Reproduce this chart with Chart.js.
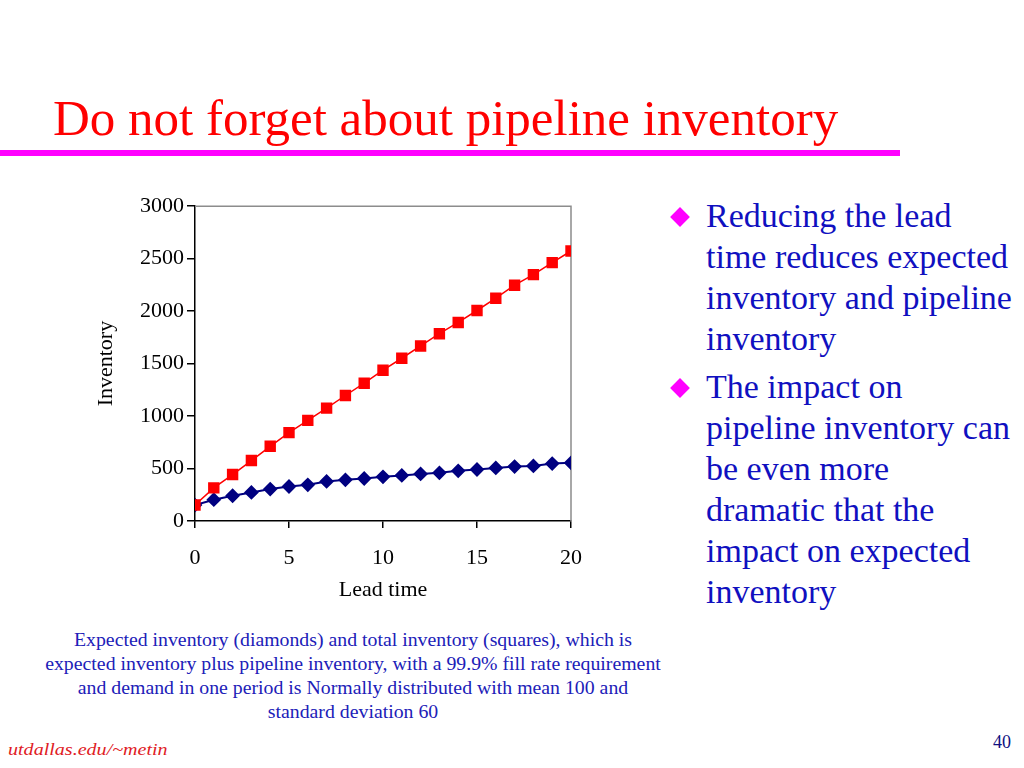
<!DOCTYPE html>
<html>
<head>
<meta charset="utf-8">
<script src="https://cdn.jsdelivr.net/npm/chart.js@4/dist/chart.umd.min.js"></script>
<style>
  html, body { margin: 0; padding: 0; background: #fff; }
  body { width: 1024px; height: 768px; position: relative; overflow: hidden;
         font-family: "Liberation Serif", "Times New Roman", serif; }
  .title { position: absolute; left: 53px; top: 93px; font-size: 51px; line-height: 1;
           color: #ff0000; white-space: nowrap; }
  .rule { position: absolute; left: 0; top: 150px; width: 900px; height: 6px; background: #ff00ff; }
  #wrap { position: absolute; left: 90px; top: 190px; width: 509px; height: 420px; }
  .bullets { position: absolute; left: 706px; top: 195px; font-size: 34px; line-height: 41px;
             color: #1010c0; white-space: nowrap; }
  .bullets p { margin: 0 0 7px 0; position: relative; }
  .bullets p::before { content: ""; position: absolute; left: -33px; top: 15px; width: 14px; height: 14px;
                       background: #ff00ff; transform: rotate(45deg); }
  .caption { position: absolute; left: 0; top: 628px; width: 706px; text-align: center;
             font-size: 18px; line-height: 24px; color: #2020b8; white-space: nowrap;
             transform: scaleX(1.1); transform-origin: 353px 0; }
  .footer { position: absolute; left: 8px; top: 740px; font-size: 17px; font-style: italic; color: #e0201f;
            transform: scaleX(1.18); transform-origin: 0 0; white-space: nowrap; }
  .page { position: absolute; left: 993px; top: 732px; font-size: 18px; color: #101080; }
</style>
</head>
<body>
<div class="title">Do not forget about pipeline inventory</div>
<div class="rule"></div>
<div id="wrap"><canvas id="inv"></canvas></div>
<div class="bullets">
  <p>Reducing the lead<br>time reduces expected<br>inventory and pipeline<br>inventory</p>
  <p>The impact on<br>pipeline inventory can<br>be even more<br>dramatic that the<br>impact on expected<br>inventory</p>
</div>
<div class="caption">Expected inventory (diamonds) and total inventory (squares), which is<br>expected inventory plus pipeline inventory, with a 99.9% fill rate requirement<br>and demand in one period is Normally distributed with mean 100 and<br>standard deviation 60</div>
<div class="footer">utdallas.edu/~metin</div>
<div class="page">40</div>

<script>
// lead time 0..20
const leadTimes = [0, 1, 2, 3, 4, 5, 6, 7, 8, 9, 10, 11, 12, 13, 14, 15, 16, 17, 18, 19, 20];
const expectedInv = [152, 203, 241, 272, 304, 329, 345, 377, 392, 405, 421, 434, 449, 459, 478, 491, 506, 519, 525, 547, 554];
const totalInv = [152, 316, 443, 576, 712, 842, 959, 1076, 1196, 1313, 1437, 1551, 1668, 1785, 1892, 2006, 2123, 2247, 2348, 2462, 2573];

const FONT = "'Liberation Serif', 'Times New Roman', serif";
const toPoints = (ys) => ys.map((y, i) => ({ x: leadTimes[i], y }));
const plain = (v) => String(v); // no thousands separator

/* grey frame on the top and right of the plot area */
const frameTopRight = {
  id: "frameTopRight",
  beforeDatasetsDraw(chart) {
    const { ctx, chartArea: a } = chart;
    ctx.save();
    ctx.strokeStyle = "#8c8c8c";
    ctx.lineWidth = 1.5;
    ctx.beginPath();
    ctx.moveTo(a.left, a.top);
    ctx.lineTo(a.right, a.top);
    ctx.lineTo(a.right, a.bottom);
    ctx.stroke();
    ctx.restore();
  }
};

new Chart(document.getElementById("inv"), {
  type: "line",
  data: {
    datasets: [
      {
        label: "Total inventory",
        data: toPoints(totalInv),
        borderColor: "#ff0000",
        backgroundColor: "#ff0000",
        borderWidth: 1.5,
        pointStyle: "rect",
        pointRadius: 7,
        pointHoverRadius: 7
      },
      {
        label: "Expected inventory",
        data: toPoints(expectedInv),
        borderColor: "#000080",
        backgroundColor: "#000080",
        borderWidth: 2,
        pointStyle: "rectRot",
        pointRadius: 6,
        pointHoverRadius: 6
      }
    ]
  },
  options: {
    responsive: true,
    maintainAspectRatio: false,
    animation: false,
    // right gap comes from the "20" label half-width + tick padding (~28px)
    layout: { padding: { top: 15, right: 0, left: 0, bottom: 0 } },
    plugins: { legend: { display: false }, tooltip: { enabled: false } },
    scales: {
      x: {
        type: "linear",
        position: "bottom",
        min: 0, max: 20,
        ticks: { stepSize: 5, color: "#000", padding: 17, callback: plain, font: { family: FONT, size: 22 } },
        grid: { drawOnChartArea: false, drawTicks: true, tickLength: 7, color: "#000", lineWidth: 1.5 },
        border: { color: "#000", width: 1.5 },
        title: { display: true, text: "Lead time", color: "#000", padding: { top: 0, bottom: 7 },
                 font: { family: FONT, size: 22 } },
        afterFit: (s) => { s.height = 89; }
      },
      y: {
        type: "linear",
        position: "left",
        min: 0, max: 3000,
        ticks: { stepSize: 500, color: "#000", padding: 3, callback: plain, font: { family: FONT, size: 22 } },
        grid: { drawOnChartArea: false, drawTicks: true, tickLength: 8, color: "#000", lineWidth: 1.5 },
        border: { color: "#000", width: 1.5 },
        title: { display: true, text: "Inventory", color: "#000", padding: { top: 3, bottom: 0 },
                 font: { family: FONT, size: 22 } },
        afterFit: (s) => { s.width = 105; }
      }
    }
  },
  plugins: [frameTopRight]
});
</script>
</body>
</html>
